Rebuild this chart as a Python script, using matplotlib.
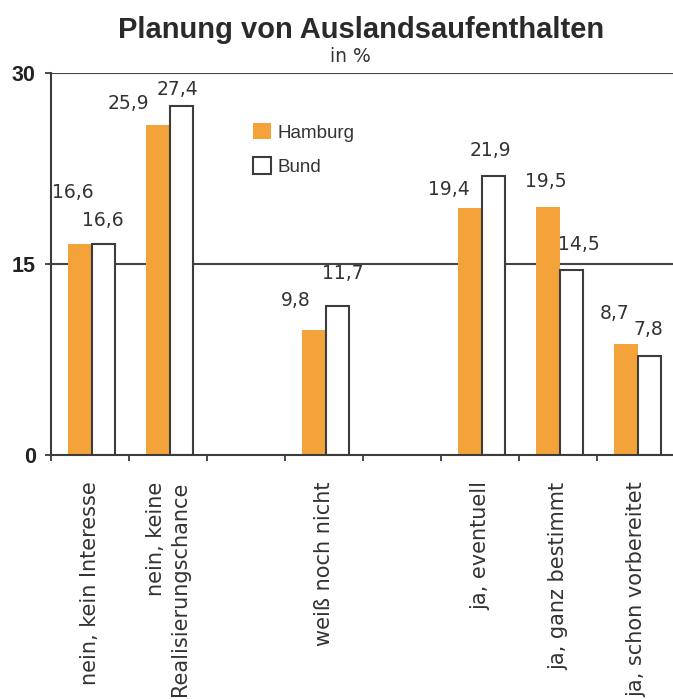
import matplotlib
matplotlib.use("Agg")
import matplotlib.pyplot as plt
from matplotlib.patches import Patch
from matplotlib.ticker import FixedLocator

plt.rcParams['font.family'] = ['Liberation Sans', 'DejaVu Sans']

# --- data -------------------------------------------------------------
title = "Planung von Auslandsaufenthalten"
subtitle = "in %"
categories = [
    "nein, kein Interesse",
    "nein, keine\nRealisierungschance",
    "weiß noch nicht",
    "ja, eventuell",
    "ja, ganz bestimmt",
    "ja, schon vorbereitet",
]
hamburg = [16.6, 25.9, 9.8, 19.4, 19.5, 8.7]
bund = [16.6, 27.4, 11.7, 21.9, 14.5, 7.8]
series_names = ["Hamburg", "Bund"]
y_ticks = [0, 15, 30]

# --- layout -----------------------------------------------------------
slots = [0, 1, 3, 5, 6, 7]          # column slot of each category (gaps left empty)
n_slots = 8
bar_w = 0.30
orange = "#F3A33A"
edge = "#3c3c3c"
text_col = "#333333"
wide = ['DejaVu Sans']

# label offsets (pixels) relative to the top-centre of each bar
h_off = [(-7, 51), (-29, 22), (-18, 30), (-21, 18), (-2, 25), (-11, 31)]
b_off = [(0, 23), (-4, 17), (6, 33), (-3, 26), (8, 26), (-1, 26)]

fig = plt.figure(figsize=(6.73, 6.99), dpi=100)
ax = fig.add_axes([51 / 673, 244 / 699, 624 / 673, 382 / 699])

xh = [s + 0.37 for s in slots]
xb = [s + 0.67 for s in slots]

for y in y_ticks[1:]:
    ax.axhline(y, color="#444444", lw=1.5, zorder=1)

ax.bar(xh, hamburg, width=bar_w, color=orange, linewidth=0, zorder=2)
ax.bar(xb, bund, width=bar_w, facecolor="white", edgecolor=edge,
       linewidth=1.5, zorder=2)

def fmt(v):
    return f"{v:.1f}".replace(".", ",")

px = 0.72  # points per pixel at 100 dpi
for xs, vals, offs in ((xh, hamburg, h_off), (xb, bund, b_off)):
    for x, v, (dx, dy) in zip(xs, vals, offs):
        ax.annotate(fmt(v), (x, v), xytext=(dx * px, dy * px),
                    textcoords="offset points", ha="center", va="center",
                    fontsize=13.5, family=wide, color=text_col, zorder=4,
                    annotation_clip=False)

ax.set_xlim(0, n_slots)
ax.set_ylim(0, 30)

ax.set_yticks(y_ticks)
ax.set_yticklabels([str(t) for t in y_ticks], fontweight="bold",
                   fontsize=15.5, color="#222222")
ax.tick_params(axis="y", direction="out", length=4, width=1.3,
               color=edge, pad=7)

ax.set_xticks([s + 0.5 for s in slots])
ax.set_xticklabels(categories, rotation=90, fontsize=15, family=wide,
                   color=text_col, va="top", ha="center",
                   multialignment="right")
ax.tick_params(axis="x", which="major", length=0, pad=19)
ax.xaxis.set_minor_locator(FixedLocator(range(0, n_slots + 1)))
ax.tick_params(axis="x", which="minor", direction="out", length=4,
               width=1.3, color=edge)

for side in ("top", "right"):
    ax.spines[side].set_visible(False)
for side in ("left", "bottom"):
    ax.spines[side].set_color(edge)
    ax.spines[side].set_linewidth(1.5)
    ax.spines[side].set_zorder(3)

handles = [Patch(facecolor=orange, edgecolor="none"),
           Patch(facecolor="white", edgecolor=edge, linewidth=1.5)]
ax.legend(handles, series_names, loc="upper left",
          bbox_to_anchor=((253 - 51) / 624, (455 - 123) / 382),
          frameon=False, borderpad=0, borderaxespad=0,
          handlelength=0.95, handleheight=0.95, handletextpad=0.35,
          labelspacing=0.85, fontsize=13.5, labelcolor=text_col)

fig.text(361 / 673, 1 - 30 / 699, title, ha="center", va="center",
         fontsize=21, fontweight="bold", color="#2a2a2a")
fig.text(350 / 673, 1 - 57 / 699, subtitle, ha="center", va="center",
         fontsize=13.5, family=wide, color=text_col)

fig.savefig("out.png", dpi=100)
